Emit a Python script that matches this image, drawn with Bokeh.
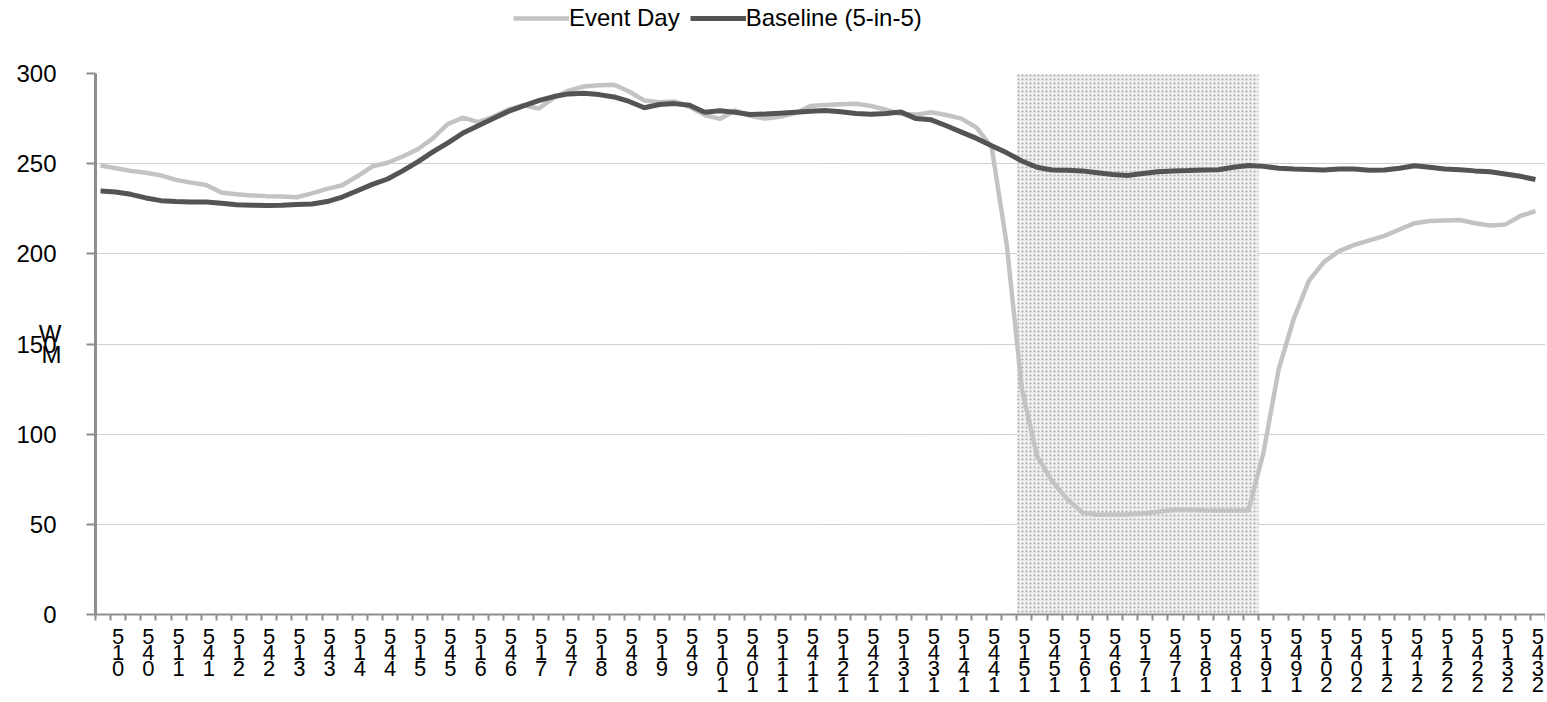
from bokeh.plotting import figure
from bokeh.layouts import column
from bokeh.models import FixedTicker, Legend, LegendItem, Range1d
from bokeh.embed import file_html
from bokeh.resources import INLINE

# readings every 15 minutes, starting 0:05
sample_minutes = list(range(5, 1440, 15))

event_day = [249, 247.5, 246, 245, 243.5, 241, 239.5, 238.2, 234, 233, 232.4, 232,
             231.8, 231.4, 233.5, 236, 238, 243, 248.5, 250.5, 254, 258, 264, 272,
             275.5, 273, 276, 280, 282.5, 280.5, 286.5, 290.5, 292.8, 293.5, 293.8, 290,
             285, 284, 284.5, 281.5, 277, 274.8, 279.5, 276.5, 275, 276, 278, 282,
             282.6, 283, 283.2, 282, 280, 277.5, 277.2, 278.5, 277, 275, 270, 259,
             205, 125, 88, 74, 64, 56.5, 55.3, 55.4, 55.5, 56, 57, 58,
             58, 57.8, 57.7, 57.7, 57.7, 90, 136, 164, 185, 195.5, 201.5, 205,
             207.5, 210, 213.5, 217, 218.2, 218.5, 218.8, 217, 215.7, 216.2, 221, 223.7]

baseline = [234.8, 234.3, 233, 231, 229.5, 229, 228.8, 228.7, 228, 227.2, 227, 226.8,
            227, 227.3, 227.6, 229, 231.5, 235, 238.5, 241.5, 246, 251, 256.5, 261.5,
            267, 271, 275, 279, 282, 285, 287.2, 288.7, 289, 288.3, 287, 284.5,
            281, 282.8, 283.3, 282.4, 278.5, 279.3, 278.5, 277.3, 277.5, 278, 278.5, 279,
            279.5, 278.8, 277.8, 277.4, 277.8, 278.6, 275, 274.3, 271, 267.5, 264, 260,
            256, 251.5, 248, 246.5, 246.3, 246, 245, 244, 243.4, 244.5, 245.5, 246,
            246.2, 246.5, 246.6, 248, 249, 248.5, 247.5, 247, 246.8, 246.5, 247, 247,
            246.4, 246.5, 247.5, 248.8, 248, 247, 246.6, 246, 245.5, 244.3, 243, 241.2]

tick_labels = ["0:15", "0:45", "1:15", "1:45", "2:15", "2:45", "3:15", "3:45",
               "4:15", "4:45", "5:15", "5:45", "6:15", "6:45", "7:15", "7:45",
               "8:15", "8:45", "9:15", "9:45", "10:15", "10:45", "11:15", "11:45",
               "12:15", "12:45", "13:15", "13:45", "14:15", "14:45", "15:15", "15:45",
               "16:15", "16:45", "17:15", "17:45", "18:15", "18:45", "19:15", "19:45",
               "20:15", "20:45", "21:15", "21:45", "22:15", "22:45", "23:15", "23:45"]

y_ticks = [0, 50, 100, 150, 200, 250, 300]
event_start, event_end = "15:15", "19:15"
y_title = "MW"
series_names = ["Event Day", "Baseline (5-in-5)"]

FONT = "Liberation Sans"
EVENT_STYLE = dict(line_color="#c3c3c3", line_width=4.5)
BASE_STYLE = dict(line_color="#545454", line_width=5)


def to_h(s):
    h, m = s.split(":")
    return int(h) + int(m) / 60.0


x_hours = [m / 60.0 for m in sample_minutes]

# ---------------- legend strip ----------------
lf = figure(width=1545, height=45, x_range=Range1d(0, 1), y_range=Range1d(0, 1),
            output_backend="svg", toolbar_location=None, min_border=0)
lf.axis.visible = False
lf.grid.visible = False
lf.outline_line_color = None
# legend-only renderers: their points lie outside the visible range
le = lf.line([-5, -4], [-5, -4], **EVENT_STYLE)
lb = lf.line([-5, -4], [-5, -4], **BASE_STYLE)
legend = Legend(items=[LegendItem(label=series_names[0], renderers=[le]),
                       LegendItem(label=series_names[1], renderers=[lb])],
                orientation="horizontal", location=(418, 13),
                label_text_font=FONT, label_text_font_size="24px",
                label_text_color="black",
                glyph_width=56, label_standoff=0, spacing=10,
                border_line_color=None, background_fill_alpha=0,
                margin=0, padding=4)
lf.add_layout(legend)

# ---------------- main chart ----------------
p = figure(width=1545, height=657,
           x_range=Range1d(0, 24), y_range=Range1d(y_ticks[0], y_ticks[-1]),
           output_backend="svg", toolbar_location=None,
           min_border_left=95, min_border_top=28, min_border_right=0, min_border_bottom=88)
p.outline_line_color = None
p.background_fill_color = "white"

# event window shading
p.quad(left=[to_h(event_start)], right=[to_h(event_end)],
       bottom=[y_ticks[0]], top=[y_ticks[-1]],
       fill_color="#efefef", line_color=None,
       hatch_pattern="dot", hatch_color="#a8a8a8", hatch_scale=4, hatch_weight=1)

p.line(x_hours, event_day, **EVENT_STYLE)
p.line(x_hours, baseline, **BASE_STYLE)

# grid
p.xgrid.visible = False
p.ygrid.ticker = FixedTicker(ticks=y_ticks)
p.ygrid.grid_line_color = "#a0a0a0"
p.ygrid.grid_line_dash = "1 1"
p.ygrid.grid_line_width = 1

# y axis
p.yaxis.ticker = FixedTicker(ticks=y_ticks)
p.yaxis.major_tick_out = 9
p.yaxis.major_tick_in = 0
p.yaxis.minor_tick_out = 0
p.yaxis.minor_tick_in = 0
p.yaxis.axis_line_color = "#8e8e8e"
p.yaxis.axis_line_width = 3
p.yaxis.major_tick_line_color = "#8e8e8e"
p.yaxis.major_tick_line_width = 2
p.yaxis.major_label_text_font = FONT
p.yaxis.major_label_text_font_size = "24px"
p.yaxis.major_label_text_color = "black"
p.yaxis.major_label_standoff = 30
p.yaxis.axis_label = "\n".join(reversed(y_title))
p.yaxis.axis_label_orientation = "horizontal"
p.yaxis.axis_label_text_font = FONT
p.yaxis.axis_label_text_font_style = "normal"
p.yaxis.axis_label_text_font_size = "24px"
p.yaxis.axis_label_text_line_height = 0.8
p.yaxis.axis_label_text_color = "black"
p.yaxis.axis_label_standoff = -48

# x axis
label_pos = [to_h(l) + 7.5 / 60.0 for l in tick_labels]
p.xaxis.ticker = FixedTicker(ticks=label_pos, minor_ticks=[k * 0.25 for k in range(97)])
p.xaxis.major_label_overrides = {pos: "\n".join(reversed(l.replace(":", "")))
                                 for pos, l in zip(label_pos, tick_labels)}
p.xaxis.major_tick_out = 0
p.xaxis.major_tick_in = 0
p.xaxis.minor_tick_out = 6
p.xaxis.minor_tick_in = 0
p.xaxis.minor_tick_line_color = "#8e8e8e"
p.xaxis.minor_tick_line_width = 2
p.xaxis.axis_line_color = "#8e8e8e"
p.xaxis.axis_line_width = 2
p.xaxis.major_label_text_font = FONT
p.xaxis.major_label_text_font_size = "22px"
p.xaxis.major_label_text_line_height = 0.64
p.xaxis.major_label_text_color = "black"
p.xaxis.major_label_standoff = 3

layout = column(lf, p, spacing=0)
open("out.html", "w").write(file_html(layout, INLINE))
